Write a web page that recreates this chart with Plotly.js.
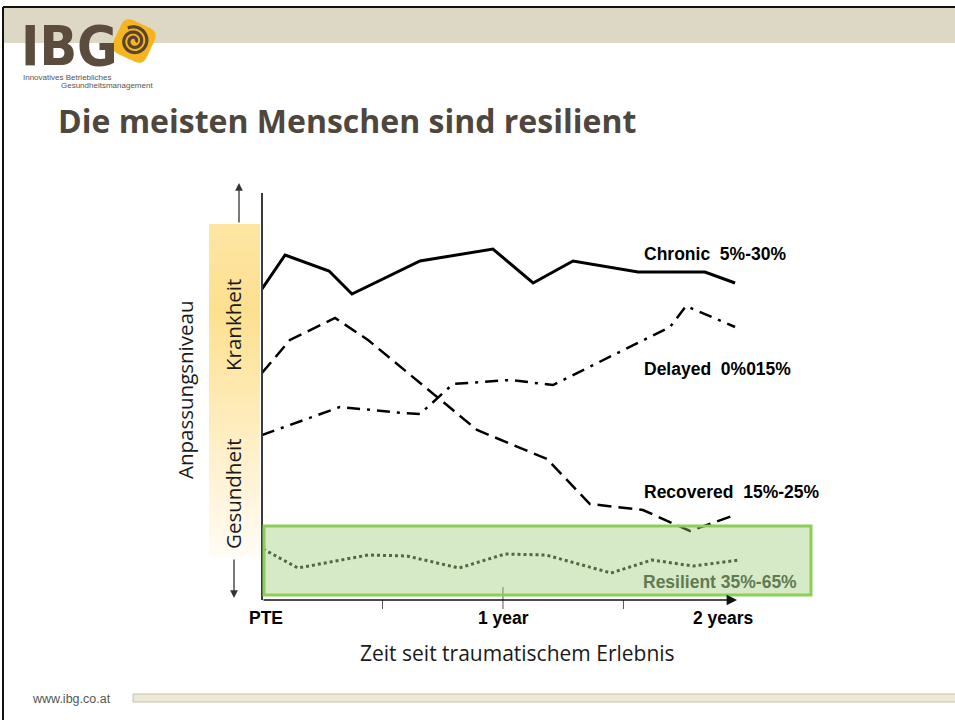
<!DOCTYPE html>
<html><head><meta charset="utf-8">
<script src="https://cdn.plot.ly/plotly-3.0.1.min.js"></script>
<style>html,body{margin:0;padding:0;background:#fff;} #chart{width:955px;height:720px;}</style>
</head><body><div id="chart"></div>
<script>
// ---- data (months since event, adaptation level 0-105) ----
const chronicMonths   = [0, 1.15, 3.34, 4.48, 7.87, 11.5, 13.5, 15.49, 18.73, 22.06, 23.56];
const chronicLevel    = [77.75, 86.25, 82.25, 76.5, 84.75, 87.75, 79.25, 84.75, 82, 82, 79.25];
const recoveredMonths = [0, 1.39, 3.64, 5.28, 10.71, 14.19, 16.33, 18.97, 21.31, 23.56];
const recoveredLevel  = [56.75, 65, 70.5, 65, 42.5, 35.25, 24, 22.5, 17.25, 21.25];
const delayedMonths   = [0, 3.88, 7.02, 7.87, 9.51, 12.35, 14.49, 20.32, 21.12, 23.56];
const delayedLevel    = [41.25, 48.25, 46.75, 46.5, 54, 55, 53.75, 68.25, 73.5, 68.25];
const resilientMonths = [0.05, 1.79, 5.28, 7.22, 9.81, 12.1, 14.14, 17.38, 19.42, 21.46, 23.8];
const resilientLevel  = [12.75, 8, 11.25, 11, 8, 11.5, 11.25, 6.75, 10, 8.5, 10];
const seriesLabels = ["Chronic  5%-30%", "Delayed  0%015%", "Recovered  15%-25%", "Resilient 35%-65%"];
const xTickVals = [0, 12, 24];
const xTickText = ["PTE", "1 year", "2 years"];
const xMinorTicks = [6, 12, 18];
const titleText = "Die meisten Menschen sind resilient";
const xTitle = "Zeit seit traumatischem Erlebnis";
const yTitle = "Anpassungsniveau";
const bandLabels = ["Krankheit", "Gesundheit"];
const logoText = "IBG";
const logoSub = ["Innovatives Betriebliches", "Gesundheitsmanagement"];
const footerText = "www.ibg.co.at";

// ---- layout helpers ----
const W = 955, H = 720, L = 262, T = 180, PW = 550, PH = 420;
const PXM = 20.08;               // pixels per month
const px2x = p => (p - L) / PW;
const py2y = p => (T + PH - p) / PH;
const sp = s => s.replace(/  /g, " \u00a0");

const traces = [
  {x: chronicMonths, y: chronicLevel, mode: 'lines', line: {color: '#000', width: 3}},
  {x: recoveredMonths, y: recoveredLevel, mode: 'lines', line: {color: '#000', width: 2.5, dash: '14px,7px'}},
  {x: delayedMonths, y: delayedLevel, mode: 'lines', line: {color: '#000', width: 2.5, dash: '13px,7px,3px,7px'}},
  {x: resilientMonths, y: resilientLevel, mode: 'lines', line: {color: '#1e2a18', width: 3, dash: 'dot'}}
];

const shapes = [];
// frame + header band
shapes.push({type:'rect', xref:'paper', yref:'paper', x0:px2x(4), x1:px2x(956), y0:py2y(43), y1:py2y(8), fillcolor:'#ddd8c3', line:{width:0}, layer:'below'});
shapes.push({type:'line', xref:'paper', yref:'paper', x0:px2x(3), x1:px2x(956), y0:py2y(7), y1:py2y(7), line:{color:'#111', width:2}});
shapes.push({type:'line', xref:'paper', yref:'paper', x0:px2x(3), x1:px2x(3), y0:py2y(7), y1:py2y(721), line:{color:'#111', width:2}});
// footer bar
shapes.push({type:'rect', xref:'paper', yref:'paper', x0:px2x(133), x1:px2x(957), y0:py2y(702), y1:py2y(694), fillcolor:'#ece8d6', line:{color:'#c6c1ab', width:1}, layer:'below'});
// logo diamond
(function(){
  const cx = 134, cy = 41, s = 18.5, n = 5, rot = 25*Math.PI/180;
  let d = '';
  for (let i = 0; i <= 80; i++) {
    const th = i/80*2*Math.PI;
    const c = Math.cos(th), si = Math.sin(th);
    const x = s*Math.sign(c)*Math.pow(Math.abs(c), 2/n);
    const y = s*Math.sign(si)*Math.pow(Math.abs(si), 2/n);
    const X = cx + x*Math.cos(rot) - y*Math.sin(rot);
    const Y = cy + x*Math.sin(rot) + y*Math.cos(rot);
    d += (i ? ' L ' : 'M ') + px2x(X).toFixed(5) + ',' + py2y(Y).toFixed(5);
  }
  shapes.push({type:'path', xref:'paper', yref:'paper', path: d + ' Z', fillcolor:'#f5b51e', line:{width:0}});
  let sd = '';
  for (let i = 0; i <= 120; i++) {
    const t = i/120;
    const ang = -t*2.4*2*Math.PI + 0.5;
    const r = 2 + 12.5*t;
    const X = cx + r*Math.cos(ang), Y = cy + r*Math.sin(ang);
    sd += (i ? ' L ' : 'M ') + px2x(X).toFixed(5) + ',' + py2y(Y).toFixed(5);
  }
  shapes.push({type:'path', xref:'paper', yref:'paper', path: sd, line:{color:'#5a4330', width:3.2}});
})();
// gradient band (Krankheit -> Gesundheit)
(function(){
  const stops = [[224,[253,230,165]],[310,[253,224,143]],[420,[254,236,188]],[556,[255,252,244]]];
  const col = p => {
    for (let i = 0; i < stops.length-1; i++) {
      const [a, ca] = stops[i], [b, cb] = stops[i+1];
      if (p >= a && p <= b) {
        const f = (p-a)/(b-a);
        return 'rgb(' + ca.map((v,k)=>Math.round(v+(cb[k]-v)*f)).join(',') + ')';
      }
    }
    return 'rgb(255,252,244)';
  };
  const N = 48, top = 224, bot = 556;
  for (let i = 0; i < N; i++) {
    const p0 = top + (bot-top)*i/N, p1 = top + (bot-top)*(i+1)/N;
    shapes.push({type:'rect', xref:'paper', yref:'paper', x0:px2x(209), x1:px2x(260), y0:py2y(p1+0.6), y1:py2y(p0), fillcolor:col((p0+p1)/2), line:{width:0}, layer:'below'});
  }
})();
// vertical axis line
shapes.push({type:'line', xref:'paper', yref:'paper', x0:0, x1:0, y0:0, y1:py2y(193), line:{color:'#3a3a3a', width:2}});
// x tick marks
xMinorTicks.forEach((m, i) => {
  shapes.push({type:'line', xref:'x', yref:'paper', x0:m, x1:m, y0:py2y(609), y1: m === 12 ? py2y(587) : 0, line:{color:'#555', width:1}});
});
// green resilient box
shapes.push({type:'rect', xref:'paper', yref:'paper', x0:px2x(264), x1:px2x(811), y0:py2y(595), y1:py2y(526), fillcolor:'rgba(155,202,117,0.4)', line:{color:'#8ccf58', width:3}, layer:'above'});

const annotations = [];
const lblFont = {family:'Liberation Sans, Arial, sans-serif', size:17.5, color:'#000', weight:700};
const lblPos = [[18.92, 86.5],[18.92, 57.75],[18.92, 27],[18.87, 4.5]];
seriesLabels.forEach((t, i) => {
  annotations.push({text: sp(t), x: lblPos[i][0], y: lblPos[i][1], xref:'x', yref:'y', xanchor:'left', yanchor:'middle', showarrow:false,
    font: Object.assign({}, lblFont, i === 3 ? {color:'#607b52'} : {})});
});
// x axis arrow
annotations.push({x: (737-L)/PXM, y: 0, ax: 0, ay: 0, xref:'x', yref:'y', axref:'x', ayref:'y', text:'', showarrow:true, arrowhead:2, arrowsize:1.3, arrowwidth:1.6, arrowcolor:'#111', standoff:0, startstandoff:0});
// tick labels
const tickShift = [4, 1, -20];
xTickVals.forEach((v, i) => {
  annotations.push({text: xTickText[i], x: v, y: py2y(618), xref:'x', yref:'paper', xanchor:'center', yanchor:'middle', xshift: tickShift[i], showarrow:false,
    font:{family:'Liberation Sans, Arial, sans-serif', size:17.5, color:'#000', weight:700}});
});
// axis titles
annotations.push({text: xTitle, x: px2x(517), y: py2y(653), xref:'paper', yref:'paper', xanchor:'center', yanchor:'middle', showarrow:false,
  font:{family:'Open Sans, sans-serif', size:21, color:'#1a1a1a'}});
annotations.push({text: yTitle, x: px2x(185), y: py2y(390), xref:'paper', yref:'paper', xanchor:'center', yanchor:'middle', textangle:-90, showarrow:false,
  font:{family:'Open Sans, sans-serif', size:20.5, color:'#1a1a1a'}});
annotations.push({text: bandLabels[0], x: px2x(233), y: py2y(325), xref:'paper', yref:'paper', xanchor:'center', yanchor:'middle', textangle:-90, showarrow:false,
  font:{family:'Open Sans, sans-serif', size:20.5, color:'#1a1a1a'}});
annotations.push({text: bandLabels[1], x: px2x(233), y: py2y(494), xref:'paper', yref:'paper', xanchor:'center', yanchor:'middle', textangle:-90, showarrow:false,
  font:{family:'Open Sans, sans-serif', size:20.5, color:'#1a1a1a'}});
// vertical arrows
annotations.push({x: px2x(239), y: py2y(183), xref:'paper', yref:'paper', ax:0, ay:41, text:'', showarrow:true, arrowhead:2, arrowsize:1.2, arrowwidth:1.3, arrowcolor:'#333', standoff:0});
annotations.push({x: px2x(234), y: py2y(598), xref:'paper', yref:'paper', ax:0, ay:-40, text:'', showarrow:true, arrowhead:2, arrowsize:1.2, arrowwidth:1.3, arrowcolor:'#333', standoff:0});
// logo + footer
annotations.push({text: logoText, x: px2x(19), y: py2y(46), xref:'paper', yref:'paper', xanchor:'left', yanchor:'middle', showarrow:false,
  height: 50, valign:'middle',
  font:{family:'Liberation Sans Narrow, DejaVu Sans Condensed, sans-serif', size:55, color:'#5b4c3e', weight:700}});
annotations.push({text: logoSub[0], x: px2x(21), y: py2y(77), xref:'paper', yref:'paper', xanchor:'left', yanchor:'middle', showarrow:false,
  font:{family:'Liberation Sans Narrow, sans-serif', size:8, color:'#555'}});
annotations.push({text: logoSub[1], x: px2x(59), y: py2y(86), xref:'paper', yref:'paper', xanchor:'left', yanchor:'middle', showarrow:false,
  font:{family:'Liberation Sans Narrow, sans-serif', size:8, color:'#555'}});
annotations.push({text: footerText, x: px2x(30), y: py2y(699), xref:'paper', yref:'paper', xanchor:'left', yanchor:'middle', showarrow:false,
  font:{family:'Liberation Sans Narrow, sans-serif', size:12.5, color:'#555'}});

const layout = {
  width: W, height: H,
  margin: {l: L, r: W - L - PW, t: T, b: H - T - PH},
  paper_bgcolor: '#fff', plot_bgcolor: 'rgba(0,0,0,0)',
  showlegend: false,
  title: {text: titleText, x: 58/W, xanchor:'left', xref:'container', y: 1 - 122/H, yanchor:'middle', yref:'container',
    font:{family:'Open Sans, sans-serif', size:32, color:'#4f463d', weight:700}},
  xaxis: {range: [0, PW/PXM], showgrid:false, zeroline:false, showline:false, showticklabels:false, ticks:'', fixedrange:true},
  yaxis: {range: [0, 105], showgrid:false, zeroline:false, showline:false, showticklabels:false, ticks:'', fixedrange:true},
  shapes: shapes,
  annotations: annotations
};
Plotly.newPlot('chart', traces, layout, {displayModeBar:false, staticPlot:true});
</script>
</body></html>
